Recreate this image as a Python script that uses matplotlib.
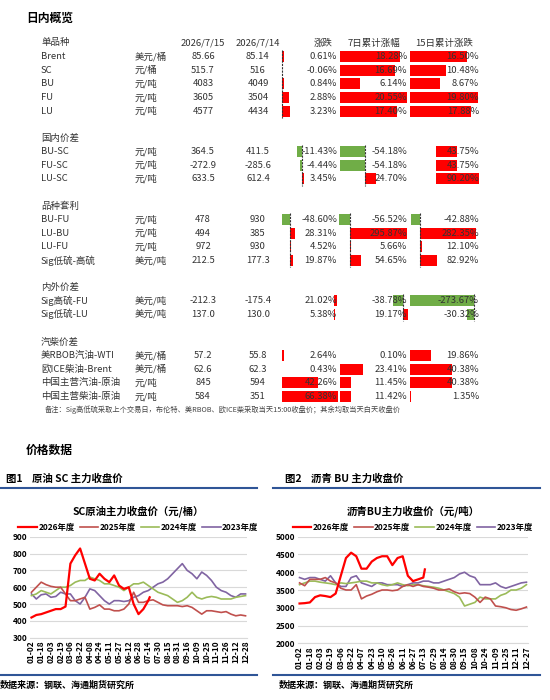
import numpy as np
import matplotlib
matplotlib.use("Agg")
import matplotlib.pyplot as plt

plt.rcParams['font.family'] = ['Noto Sans CJK SC', 'DejaVu Sans']

# ---- table data ----
groups = ["单品种", "国内价差", "品种套利", "内外价差", "汽柴价差"]
names = [
    ["Brent", "SC", "BU", "FU", "LU"],
    ["BU-SC", "FU-SC", "LU-SC"],
    ["BU-FU", "LU-BU", "LU-FU", "Sig低硫-高硫"],
    ["Sig高硫-FU", "Sig低硫-LU"],
    ["美RBOB汽油-WTI", "欧ICE柴油-Brent", "中国主营汽油-原油", "中国主营柴油-原油"],
]
units = [
    ["美元/桶", "元/桶", "元/吨", "元/吨", "元/吨"],
    ["元/吨", "元/吨", "元/吨"],
    ["元/吨", "元/吨", "元/吨", "美元/吨"],
    ["美元/吨", "美元/吨"],
    ["美元/桶", "美元/桶", "元/吨", "元/吨"],
]
today = [
    ["85.66", "515.7", "4083", "3605", "4577"],
    ["364.5", "-272.9", "633.5"],
    ["478", "494", "972", "212.5"],
    ["-212.3", "137.0"],
    ["57.2", "62.6", "845", "584"],
]
yesterday = [
    ["85.14", "516", "4049", "3504", "4434"],
    ["411.5", "-285.6", "612.4"],
    ["930", "385", "930", "177.3"],
    ["-175.4", "130.0"],
    ["55.8", "62.3", "594", "351"],
]
chg = [
    [0.61, -0.06, 0.84, 2.88, 3.23],
    [-11.43, -4.44, 3.45],
    [-48.60, 28.31, 4.52, 19.87],
    [21.02, 5.38],
    [2.64, 0.43, 42.26, 66.38],
]
chg7 = [
    [18.28, 16.69, 6.14, 20.55, 17.40],
    [-54.18, -54.18, 24.70],
    [-56.52, 295.87, 5.66, 54.65],
    [-38.78, 19.17],
    [0.10, 23.41, 11.45, 11.42],
]
chg15 = [
    [16.50, 10.48, 8.67, 19.80, 17.88],
    [43.75, 43.75, 90.20],
    [-42.88, 282.35, 12.10, 82.92],
    [-273.67, -30.32],
    [19.86, 40.38, 40.38, 1.35],
]
header = ["2026/7/15", "2026/7/14", "涨跌", "7日累计涨幅", "15日累计涨跌"]

# bar layout per group: (zero x, px per %) for each of the three pct columns
bar_cfg = [
    [(282, 2.5), (340, 3.27), (410, 3.43)],
    [(302, 0.44), (365, 0.46), (436, 0.48)],
    [(290, 0.165), (350, 0.193), (420, 0.2)],
    [(334, 0.143), (403, 0.26), (474, 0.234)],
    [(282, 0.845), (340, 0.98), (410, 1.04)],
]
group_y = [43, 138, 206, 287, 342]
row_h = 13.6

# ---- price data (sampled every half tick) ----
sc_ticks = ["01-02", "01-18", "02-03", "02-19", "03-06", "03-22", "04-08", "04-24", "05-11", "05-27",
            "06-12", "06-28", "07-14", "07-30", "08-15", "08-31", "09-16", "10-09", "10-25", "11-10",
            "11-26", "12-12", "12-28"]
sc_2026 = [420, 435, 440, 450, 460, 470, 470, 485, 740, 790, 830, 740, 650, 640, 680, 650, 630, 670,
           610, 590, 600, 500, 440, 470, 520, 540]
sc_2025 = [570, 600, 630, 615, 605, 600, 600, 560, 520, 520, 530, 540, 470, 480, 495, 470, 470, 460,
           460, 470, 500, 570, 510, 510, 520, 525, 510, 495, 490, 490, 490, 485, 490, 480, 460, 440,
           460, 460, 455, 450, 455, 440, 430, 435, 430]
sc_2024 = [550, 560, 580, 570, 560, 580, 600, 600, 610, 630, 640, 640, 660, 650, 640, 620, 620, 610,
           600, 580, 600, 620, 620, 630, 610, 590, 570, 560, 550, 530, 510, 520, 540, 570, 540, 530,
           540, 545, 540, 530, 530, 530, 540, 545, 550]
sc_2023 = [560, 530, 555, 560, 540, 545, 570, 560, 560, 520, 500, 540, 590, 580, 550, 520, 500, 520,
           520, 515, 520, 540, 550, 570, 580, 600, 620, 630, 650, 680, 710, 740, 700, 680, 650, 690,
           670, 640, 600, 580, 570, 550, 540, 560, 560]

bu_ticks = ["01-02", "01-18", "02-03", "02-19", "03-06", "03-22", "04-07", "04-23", "05-10", "05-26",
            "06-11", "06-27", "07-13", "07-29", "08-14", "08-30", "09-15", "10-08", "10-24", "11-09",
            "11-25", "12-11", "12-27"]
bu_2026 = [3120, 3130, 3150, 3300, 3350, 3330, 3300, 3400, 3900, 4400, 4550, 4450, 4100, 4100, 4300,
           4400, 4450, 4450, 4200, 4400, 4450, 3900, 3750, 3800, 3850, 4080]
bu_2025 = [3700, 3620, 3800, 3800, 3800, 3850, 3750, 3700, 3550, 3500, 3500, 3650, 3250, 3330, 3380,
           3450, 3500, 3500, 3480, 3500, 3600, 3650, 3600, 3650, 3600, 3580, 3550, 3500, 3500, 3530,
           3450, 3400, 3420, 3400, 3300, 3150, 3300, 3250, 3050, 3030, 3000, 2950, 2930, 2970, 3020]
bu_2024 = [3650, 3700, 3750, 3750, 3720, 3700, 3680, 3650, 3700, 3680, 3700, 3720, 3750, 3750, 3700,
           3700, 3650, 3620, 3650, 3700, 3650, 3620, 3650, 3650, 3620, 3600, 3580, 3550, 3500, 3450,
           3400, 3300, 3050, 3100, 3150, 3300, 3250, 3250, 3250, 3350, 3400, 3500, 3500, 3550, 3650]
bu_2023 = [3850, 3800, 3850, 3850, 3800, 3750, 3900, 3700, 3600, 3600, 3850, 3900, 3700, 3650, 3600,
           3700, 3700, 3650, 3650, 3650, 3600, 3650, 3700, 3700, 3750, 3750, 3700, 3700, 3750, 3800,
           3850, 3950, 4000, 3900, 3850, 3650, 3650, 3650, 3700, 3600, 3550, 3600, 3650, 3700, 3720]

years = ["2026年度", "2025年度", "2024年度", "2023年度"]
colors = ["#FF0000", "#C0504D", "#9BBB59", "#8064A2"]
widths = [1.6, 1.2, 1.2, 1.2]

W, H = 550, 700
fig = plt.figure(figsize=(5.5, 7), dpi=100)
tab = fig.add_axes([0, 0, 1, 1])
tab.set_xlim(0, W)
tab.set_ylim(H, 0)
tab.axis("off")

fs = 6.8
tab.text(26, 18, "日内概览", fontsize=8.5, fontweight="bold", va="center")
hy = group_y[0]
tab.text(41, hy, groups[0], fontsize=fs, va="center", color="#333333")
tab.text(203, hy, header[0], fontsize=fs, va="center", ha="center", color="#333333")
tab.text(258, hy, header[1], fontsize=fs, va="center", ha="center", color="#333333")
tab.text(323, hy, header[2], fontsize=fs, va="center", ha="center", color="#333333")
tab.text(374, hy, header[3], fontsize=fs, va="center", ha="center", color="#333333")
tab.text(444, hy, header[4], fontsize=fs, va="center", ha="center", color="#333333")

text_right = [337, 407, 479]
for g in range(len(groups)):
    y0 = group_y[g]
    if g > 0:
        tab.text(41, y0, groups[g], fontsize=fs, va="center", color="#333333")
    n = len(names[g])
    cols = [chg[g], chg7[g], chg15[g]]
    for c in range(3):
        zx, sc = bar_cfg[g][c]
        vals = cols[c]
        for i, v in enumerate(vals):
            y = y0 + row_h * (i + 1)
            col = "#FF0000" if v >= 0 else "#70AD47"
            tab.barh(y, v * sc, left=zx, height=11, color=col, zorder=1)
        if min(vals) < 0:
            tab.plot([zx, zx], [y0 + row_h * 0.5, y0 + row_h * (n + 0.5)],
                     color="#333333", lw=0.8, ls=(0, (2, 1)), zorder=2)
    for i in range(n):
        y = y0 + row_h * (i + 1)
        tab.text(41, y, names[g][i], fontsize=fs, va="center", color="#333333")
        tab.text(135, y, units[g][i], fontsize=fs, va="center", color="#333333")
        tab.text(203, y, today[g][i], fontsize=fs, va="center", ha="center", color="#333333")
        tab.text(258, y, yesterday[g][i], fontsize=fs, va="center", ha="center", color="#333333")
        for c in range(3):
            tab.text(text_right[c], y, f"{cols[c][i]:.2f}%", fontsize=fs, va="center",
                     ha="right", color="#333333", zorder=3)

tab.text(45, 410, "备注：Sig高低硫采取上个交易日，布伦特、美RBOB、欧ICE柴采取当天15:00收盘价；其余均取当天白天收盘价",
         fontsize=5.2, style="italic", va="center", color="#444444")
tab.text(26, 450, "价格数据", fontsize=8.5, fontweight="bold", va="center")

# chart frames
for x1, x2, lab, tx in [(0, 257, "图1    原油 SC 主力收盘价", 6), (273, 540, "图2    沥青 BU 主力收盘价", 285)]:
    tab.text(tx, 479, lab, fontsize=7.5, fontweight="bold", va="center")
    tab.plot([x1, x2], [488, 488], color="#2F5597", lw=1.5)
    tab.plot([x1, x2], [675, 675], color="#2F5597", lw=1.5)
    tab.text(tx - 6 if tx > 100 else 0, 685, "数据来源：钢联、海通期货研究所", fontsize=6.5,
             fontweight="bold", va="center")


def line_chart(rect, title, ticks, series, ylo, yhi, ystep):
    ax = fig.add_axes(rect)
    for k, s in enumerate(series):
        ax.plot(np.arange(len(s)) if k else np.r_[np.arange(len(s) - 1), len(s) - 1.7],
                s, color=colors[k], lw=widths[k], label=years[k], zorder=5 - k)
    ax.set_xlim(-0.3, 44.3)
    ax.set_ylim(ylo, yhi)
    ax.set_yticks(np.arange(ylo, yhi + 1, ystep))
    ax.set_xticks(np.arange(0, 45, 2))
    ax.set_xticklabels(ticks, rotation=90)
    ax.grid(axis="y", color="#D9D9D9", lw=0.8)
    ax.set_axisbelow(True)
    for sp in ["top", "right", "left"]:
        ax.spines[sp].set_visible(False)
    ax.spines["bottom"].set_color("#D9D9D9")
    ax.tick_params(length=0, labelsize=6, pad=2)
    for t in ax.get_xticklabels() + ax.get_yticklabels():
        t.set_fontweight("bold")
    ax.legend(loc="lower center", bbox_to_anchor=(0.5, 1.0), ncol=4, frameon=False,
              prop={"size": 6, "weight": "bold"}, handlelength=2.2, columnspacing=0.6,
              handletextpad=0.2, borderaxespad=0.2)
    ax.set_title(title, fontsize=7.5, fontweight="bold", pad=16)
    return ax


line_chart([30 / W, (H - 637.7) / H, 217 / W, 101 / H], "SC原油主力收盘价（元/桶）", sc_ticks,
           [sc_2026, sc_2025, sc_2024, sc_2023], 300, 900, 100)
line_chart([298 / W, (H - 643.3) / H, 230 / W, 106.6 / H], "沥青BU主力收盘价（元/吨）", bu_ticks,
           [bu_2026, bu_2025, bu_2024, bu_2023], 2000, 5000, 500)

fig.savefig("out.png", dpi=100)
